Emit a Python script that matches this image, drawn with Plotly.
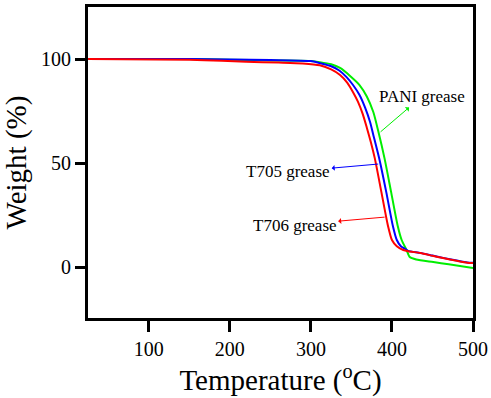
import plotly.graph_objects as go

# ---- data ----
t706_temp = [25, 150, 190, 220, 260, 290, 311, 325, 336, 345, 352, 358, 364, 369, 374, 379, 387, 395, 400, 406, 414, 420, 435, 450, 463, 480, 493, 500]
t706_wt = [100, 99.6, 99.2, 98.7, 98.3, 97.9, 97, 95, 92.3, 88.5, 84, 79.5, 73.5, 67, 60, 52, 36, 20, 13, 10, 8.2, 7.6, 6.7, 5.4, 4.3, 3, 2.1, 1.9]

t705_temp = [25, 150, 200, 250, 300, 311, 325, 335, 344, 352, 360, 367, 373, 377, 385, 393, 401, 406, 411, 416, 420, 435, 450, 463, 480, 493, 500]
t705_wt = [100, 100, 99.8, 99.5, 99, 98, 96.5, 94.5, 91.3, 87.5, 82.7, 76.5, 69.7, 63.5, 51, 36, 20, 13, 10, 8.8, 7.8, 6.8, 5.5, 4.4, 3.1, 2.2, 2.0]

pani_temp = [25, 150, 200, 250, 300, 311, 325, 336, 348, 360, 369, 377, 383, 391, 399, 407, 412, 418, 422, 430, 451, 470, 500]
pani_wt = [100, 100, 99.7, 99.3, 99, 98.5, 97.5, 95.7, 92, 87.5, 82, 74.5, 65.5, 52, 36, 20, 13, 8.2, 4.8, 3.6, 2.4, 1.3, -0.5]

x_ticks = [100, 200, 300, 400, 500]
y_ticks = [0, 50, 100]

labels = ["PANI grease", "T705 grease", "T706 grease"]
label_pos = [(437, 82), (272, 45.7), (280, 20.2)]
arrow_tail = [(386, 65), (383, 49.5), (391, 24)]
colors = ["#00ee00", "#0000ff", "#ff0000"]

FONT = "Liberation Serif"

fig = go.Figure()
fig.add_trace(go.Scatter(x=pani_temp, y=pani_wt, mode="lines", line=dict(color=colors[0], width=2, shape="spline", smoothing=0.6)))
fig.add_trace(go.Scatter(x=t705_temp, y=t705_wt, mode="lines", line=dict(color=colors[1], width=2, shape="spline", smoothing=0.6)))
fig.add_trace(go.Scatter(x=t706_temp, y=t706_wt, mode="lines", line=dict(color=colors[2], width=2, shape="spline", smoothing=0.6)))

for lab, (tx, ty), (sx, sy), c in zip(labels, label_pos, arrow_tail, colors):
    fig.add_annotation(x=sx, y=sy, ax=tx, ay=ty, xref="x", yref="y", axref="x", ayref="y",
                       text=lab, showarrow=True, arrowhead=2, arrowsize=1, arrowwidth=1,
                       arrowside="start", arrowcolor=c, standoff=0, startstandoff=0,
                       font=dict(family=FONT, size=17, color="black"))

fig.update_layout(
    width=491, height=398,
    margin=dict(l=88, r=18, t=7, b=80),
    plot_bgcolor="white", paper_bgcolor="white",
    showlegend=False,
    font=dict(family=FONT, color="black"),
)
fig.update_xaxes(
    range=[25, 500], tickvals=x_ticks, ticks="outside", ticklen=11, tickwidth=2.5,
    tickcolor="black", showline=True, linewidth=3, linecolor="black", mirror=True,
    showgrid=False, zeroline=False, automargin=False,
    tickfont=dict(family=FONT, size=20, color="black"),
    title=dict(text="Temperature (<sup>o</sup>C)", font=dict(family=FONT, size=29, color="black"), standoff=6),
)
fig.update_yaxes(
    range=[-24.5, 125], tickvals=y_ticks, ticks="outside", ticklen=10, tickwidth=2.5,
    tickcolor="black", showline=True, linewidth=3, linecolor="black", mirror=True,
    showgrid=False, zeroline=False, automargin=False,
    tickfont=dict(family=FONT, size=20, color="black"),
    title=dict(text="Weight (%)", font=dict(family=FONT, size=29, color="black"), standoff=10),
)

fig.write_html("out.html", config={"displayModeBar": False},
               post_script="document.body.style.margin='0';document.body.style.padding='0';")
